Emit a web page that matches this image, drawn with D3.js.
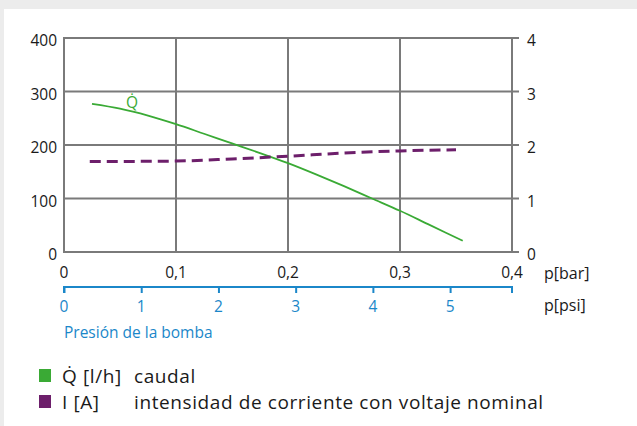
<!DOCTYPE html>
<html>
<head>
<meta charset="utf-8">
<script src="https://cdn.jsdelivr.net/npm/d3@7"></script>
<style>
  body { margin: 0; background: #ececec; }
  svg { display: block; }
  text { font-family: "Open Sans", "Noto Sans", sans-serif; fill: #1a1a1a; }
</style>
</head>
<body>
<svg width="637" height="426"></svg>
<script>
// data
const barTicks = [0, 0.1, 0.2, 0.3, 0.4];
const barLabels = ['0', '0,1', '0,2', '0,3', '0,4'];
const psiTicks = [0, 1, 2, 3, 4, 5];
const flowTicks = [0, 100, 200, 300, 400];
const currentTicks = [0, 1, 2, 3, 4];

// Q [l/h] vs p[bar]
const flowP = [0.025, 0.05, 0.075, 0.1, 0.125, 0.15, 0.175, 0.2, 0.225, 0.25, 0.275, 0.3, 0.325, 0.356];
const flowQ = [277, 268, 255, 239, 221, 203, 185, 166, 145, 123, 100, 77, 52, 21];

// I [A] vs p[bar]
const currP = [0.023, 0.1, 0.15, 0.2, 0.25, 0.3, 0.35];
const currI = [1.69, 1.70, 1.74, 1.79, 1.85, 1.89, 1.91];

const BAR_TO_PSI = 14.5038;

const svg = d3.select('svg');

// white sheet
svg.append('rect')
  .attr('x', 4).attr('y', 9)
  .attr('width', 637).attr('height', 426)
  .attr('fill', '#fff');

const mLeft = 64, mRight = 512, mTop = 38, mBottom = 252;

const x = d3.scaleLinear().domain([0, 0.4]).range([mLeft, mRight]);
const xPsi = d3.scaleLinear().domain([0, 0.4 * BAR_TO_PSI]).range([mLeft, mRight]);
const yQ = d3.scaleLinear().domain([0, 400]).range([mBottom, mTop]);
const yI = d3.scaleLinear().domain([0, 4]).range([mBottom, mTop]);

const grid = '#7a7a7a';

// horizontal grid (extends a bit past right edge like the right ticks)
svg.append('g')
  .selectAll('line')
  .data(flowTicks)
  .join('line')
  .attr('x1', mLeft).attr('x2', mRight + 7)
  .attr('y1', d => yQ(d)).attr('y2', d => yQ(d))
  .attr('stroke', grid).attr('stroke-width', 2);

// vertical grid
svg.append('g')
  .selectAll('line')
  .data(barTicks)
  .join('line')
  .attr('x1', d => x(d)).attr('x2', d => x(d))
  .attr('y1', mTop - 1).attr('y2', mBottom + 1)
  .attr('stroke', grid).attr('stroke-width', 2);

// left labels
svg.append('g')
  .selectAll('text')
  .data(flowTicks)
  .join('text')
  .attr('x', mLeft - 7)
  .attr('y', d => yQ(d) + 8)
  .attr('text-anchor', 'end')
  .attr('font-size', 15.5)
  .text(d => d);

// right labels
svg.append('g')
  .selectAll('text')
  .data(currentTicks)
  .join('text')
  .attr('x', mRight + 15)
  .attr('y', d => yI(d) + 8)
  .attr('font-size', 15.5)
  .text(d => d);

// bar labels
svg.append('g')
  .selectAll('text')
  .data(barTicks)
  .join('text')
  .attr('x', d => x(d))
  .attr('y', 278)
  .attr('text-anchor', 'middle')
  .attr('font-size', 15.5)
  .text((d, i) => barLabels[i]);

svg.append('text')
  .attr('x', 544).attr('y', 279)
  .attr('font-size', 16)
  .text('p[bar]');

// psi axis: line on top, ticks hanging down
const blue = '#1b87c9';
const psiAxis = svg.append('g')
  .attr('transform', 'translate(0,287)')
  .call(d3.axisBottom(xPsi).tickValues(psiTicks).tickSize(6).tickSizeOuter(0).tickFormat(''));
psiAxis.select('.domain')
  .attr('d', `M${mLeft},6V0H${mRight}V6`)
  .attr('stroke', blue).attr('stroke-width', 2).attr('fill', 'none');
psiAxis.selectAll('.tick line').attr('stroke', blue).attr('stroke-width', 2);

svg.append('g')
  .selectAll('text')
  .data(psiTicks)
  .join('text')
  .attr('x', d => xPsi(d))
  .attr('y', 312)
  .attr('text-anchor', 'middle')
  .attr('font-size', 15.5)
  .style('fill', blue)
  .text(d => d);

svg.append('text')
  .attr('x', 544).attr('y', 311)
  .attr('font-size', 16)
  .text('p[psi]');

svg.append('text')
  .attr('x', 64).attr('y', 338)
  .attr('font-size', 15.5)
  .style('fill', blue)
  .text('Presión de la bomba');

// curves
const green = '#3aaa35';
const purple = '#6d1f6b';

const flowLine = d3.line()
  .x((d, i) => x(flowP[i]))
  .y(d => yQ(d))
  .curve(d3.curveMonotoneX);

svg.append('path')
  .attr('d', flowLine(flowQ))
  .attr('fill', 'none')
  .attr('stroke', green)
  .attr('stroke-width', 1.8);

const currLine = d3.line()
  .x((d, i) => x(currP[i]))
  .y(d => yI(d))
  .curve(d3.curveMonotoneX);

svg.append('path')
  .attr('d', currLine(currI))
  .attr('fill', 'none')
  .attr('stroke', purple)
  .attr('stroke-width', 3)
  .attr('stroke-dasharray', '11 6');

svg.append('text')
  .attr('x', 132).attr('y', 108)
  .attr('text-anchor', 'middle')
  .attr('font-size', 15.5)
  .style('fill', green)
  .text('Q\u0307');

// legend
const legend = [
  { sym: 'Q\u0307 [l/h]', desc: 'caudal', color: green },
  { sym: 'I [A]', desc: 'intensidad de corriente con voltaje nominal', color: purple }
];
const lg = svg.append('g')
  .selectAll('g')
  .data(legend)
  .join('g')
  .attr('transform', (d, i) => `translate(0,${369 + i * 26})`);
lg.append('rect')
  .attr('x', 39).attr('y', 0)
  .attr('width', 12).attr('height', 13)
  .attr('fill', d => d.color);
lg.append('text')
  .attr('x', 62).attr('y', 14)
  .attr('font-size', 19)
  .attr('letter-spacing', 0.6)
  .text(d => d.sym);
lg.append('text')
  .attr('x', 134).attr('y', 14)
  .attr('font-size', 19)
  .attr('letter-spacing', 0.6)
  .text(d => d.desc);
</script>
</body>
</html>
